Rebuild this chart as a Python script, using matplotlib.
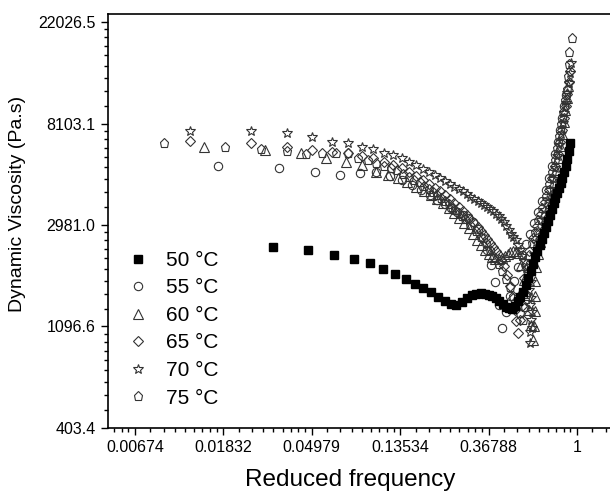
import numpy as np
import matplotlib
matplotlib.use('Agg')
import matplotlib.pyplot as plt
from matplotlib.ticker import FixedLocator, FixedFormatter, NullFormatter

# reduced frequency / dynamic viscosity (Pa.s)
freq_50 = [0.032, 0.048, 0.064, 0.080, 0.096, 0.112, 0.128, 0.144, 0.160, 0.176,
           0.192, 0.208, 0.224, 0.240, 0.256, 0.272, 0.288, 0.304, 0.320, 0.336,
           0.352, 0.368, 0.384, 0.400, 0.416, 0.432, 0.448, 0.464, 0.480, 0.496,
           0.512, 0.528, 0.544, 0.560, 0.576, 0.592, 0.608, 0.624, 0.640, 0.656,
           0.672, 0.688, 0.704, 0.720, 0.736, 0.752, 0.768, 0.784, 0.800, 0.816,
           0.832, 0.848, 0.864, 0.880, 0.896, 0.912, 0.928]
visc_50 = [2400, 2330, 2218, 2130, 2050, 1930, 1838, 1750, 1666, 1600,
           1540, 1466, 1410, 1368, 1354, 1395, 1452, 1495, 1510, 1525,
           1510, 1495, 1480, 1452, 1410, 1368, 1328, 1315, 1302, 1341,
           1410, 1466, 1540, 1650, 1768, 1894, 2030, 2175, 2307, 2447,
           2596, 2754, 2924, 3100, 3286, 3486, 3700, 3885, 4080, 4290,
           4505, 4735, 5020, 5330, 5710, 6180, 6690]

freq_55 = [0.0172, 0.0344, 0.0516, 0.0688, 0.086, 0.1032, 0.1204, 0.1376, 0.1548, 0.172,
           0.1892, 0.2064, 0.2236, 0.2408, 0.258, 0.2752, 0.2924, 0.3096, 0.3268, 0.344,
           0.3612, 0.3784, 0.3956, 0.4128, 0.43,
           0.448, 0.469, 0.490, 0.513, 0.537, 0.562, 0.588, 0.615, 0.643, 0.673,
           0.704, 0.728, 0.754, 0.780, 0.807, 0.825, 0.844, 0.863, 0.883]
visc_55 = [5330, 5230, 5020, 4880, 4970, 5020, 4830, 4640, 4420, 4205,
           4000, 3810, 3660, 3520, 3385, 3290, 3190, 3070, 2870, 2620,
           2330, 2010, 1700, 1354, 1080,
           1265, 1480, 1715, 1970, 2218, 2470, 2730, 3040, 3385, 3770,
           4205, 4730, 5330, 6000, 6750, 7600, 8550, 9630, 10730]

freq_60 = [0.0147, 0.0294, 0.0441, 0.0588, 0.0736, 0.0883, 0.103, 0.1177, 0.1324, 0.1471,
           0.1618, 0.1765, 0.1912, 0.2059, 0.2207, 0.2354, 0.2501, 0.2648, 0.2795, 0.2942,
           0.3089, 0.3236, 0.3383, 0.353, 0.3678, 0.3825, 0.3972, 0.4119, 0.4266, 0.4413,
           0.456, 0.4707, 0.4854, 0.5001, 0.5148,
           0.531, 0.549, 0.568, 0.581, 0.594, 0.608, 0.615, 0.622, 0.622, 0.622,
           0.629, 0.643, 0.658, 0.681, 0.704, 0.728, 0.754, 0.771, 0.789, 0.807,
           0.825, 0.844, 0.863, 0.873, 0.893, 0.903]
visc_60 = [6430, 6240, 6060, 5770, 5540, 5380, 5020, 4880, 4730, 4550,
           4330, 4160, 4000, 3850, 3700, 3520, 3350, 3190, 3040, 2890,
           2730, 2570, 2450, 2330, 2240, 2175, 2130, 2130, 2155, 2195,
           2240, 2285, 2305, 2305, 2260,
           2010, 1730, 1495, 1289, 1112, 959, 1100, 1275, 1480, 1715,
           1970, 2240, 2520, 2838, 3190, 3590, 4040, 4550, 5123, 5770,
           6490, 7310, 8220, 9255, 10420, 11730]

freq_65 = [0.0125, 0.025, 0.0375, 0.05, 0.0625, 0.075, 0.0875, 0.1, 0.1125, 0.125,
           0.1375, 0.15, 0.1625, 0.175, 0.1875, 0.2, 0.2125, 0.225, 0.2375, 0.25,
           0.2625, 0.275, 0.2875, 0.3, 0.3125, 0.325, 0.3375, 0.35, 0.3625, 0.375,
           0.3875, 0.4, 0.4125, 0.425, 0.4375,
           0.453, 0.469, 0.485, 0.496, 0.502, 0.513, 0.525, 0.537, 0.543, 0.549,
           0.562, 0.581, 0.608, 0.636, 0.665, 0.696, 0.728, 0.754, 0.780, 0.807,
           0.825, 0.844, 0.863, 0.883, 0.893, 0.914, 0.924]
visc_65 = [6820, 6690, 6430, 6240, 6120, 6060, 5880, 5770, 5540, 5380,
           5230, 5020, 4830, 4640, 4460, 4290, 4160, 4000, 3850, 3700,
           3560, 3420, 3290, 3160, 3040, 2920, 2810, 2700, 2600, 2500,
           2400, 2310, 2220, 2110, 1990,
           1820, 1635, 1450, 1289, 1155, 1030, 1168, 1340, 1540, 1770,
           2030, 2310, 2620, 2950, 3320, 3740, 4205, 4730, 5330, 6000,
           6750, 7600, 8550, 9630, 10840, 12200, 13590]

freq_70 = [0.0125, 0.025, 0.0375, 0.05, 0.0625, 0.075, 0.0875, 0.1, 0.1125, 0.125,
           0.1375, 0.15, 0.1625, 0.175, 0.1875, 0.2, 0.2125, 0.225, 0.2375, 0.25,
           0.2625, 0.275, 0.2875, 0.3, 0.3125, 0.325, 0.3375, 0.35, 0.3625, 0.375,
           0.3875, 0.4, 0.4125, 0.425, 0.4375, 0.45, 0.4625, 0.475, 0.4875, 0.5,
           0.5125, 0.525, 0.5375, 0.55, 0.5625, 0.575,
           0.581, 0.5875, 0.594, 0.5875, 0.5875, 0.601, 0.601, 0.594, 0.594, 0.601,
           0.615, 0.629, 0.643, 0.665, 0.688, 0.712, 0.737, 0.762, 0.780, 0.798,
           0.816, 0.834, 0.854, 0.863, 0.883, 0.893, 0.914, 0.924, 0.934]
visc_70 = [7530, 7530, 7380, 7090, 6750, 6690, 6430, 6300, 6060, 5940,
           5770, 5540, 5380, 5170, 5020, 4880, 4730, 4600, 4460, 4330,
           4250, 4160, 4040, 3920, 3850, 3770, 3700, 3630, 3560, 3490,
           3420, 3320, 3250, 3160, 3070, 2950, 2840, 2730, 2650, 2570,
           2450, 2330, 2200, 2090, 1950, 1785,
           1570, 1354, 1168, 1040, 930, 1080, 1265, 1450, 1700, 1950,
           2240, 2520, 2810, 3128, 3452, 3810, 4205, 4690, 5220, 5880,
           6555, 7310, 8140, 8990, 9920, 10940, 12080, 13330, 14700]

freq_75 = [0.00936, 0.01872, 0.02808, 0.03744, 0.0468, 0.05616, 0.06552, 0.07488, 0.08424, 0.0936,
           0.103, 0.1123, 0.1217, 0.131, 0.1404, 0.1498, 0.1591, 0.1685, 0.1778, 0.1872,
           0.1966, 0.2059, 0.2153, 0.2246, 0.234, 0.2434, 0.2527, 0.2621, 0.2714, 0.2808,
           0.2995, 0.3182, 0.337, 0.3557, 0.3744, 0.3931, 0.4118, 0.4306, 0.4493, 0.468,
           0.4867, 0.5054, 0.5242, 0.5429,
           0.555, 0.562, 0.562, 0.568, 0.581, 0.601, 0.622, 0.643, 0.673, 0.704,
           0.728, 0.754, 0.780, 0.798, 0.816, 0.834, 0.854, 0.873, 0.893, 0.903,
           0.914, 0.914, 0.945]
visc_75 = [6690, 6430, 6300, 6180, 6000, 6060, 6060, 6060, 5770, 5650,
           5490, 5330, 5230, 5120, 4925, 4780, 4640, 4550, 4375, 4250,
           4120, 4000, 3890, 3770, 3660, 3560, 3450, 3350, 3250, 3160,
           2980, 2810, 2650, 2500, 2330, 2175, 2030, 1895, 1750, 1620,
           1480, 1354, 1250, 1168,
           1330, 1510, 1715, 1950, 2218, 2500, 2780, 3128, 3520, 3960,
           4460, 5020, 5650, 6365, 7165, 8065, 9075, 10210, 11380, 12940,
           14560, 16380, 18815]

labels = ['50 °C', '55 °C', '60 °C', '65 °C', '70 °C', '75 °C']
x_tick_labels = ['0.00674', '0.01832', '0.04979', '0.13534', '0.36788', '1']
y_tick_labels = ['403.4', '1096.6', '2981.0', '8103.1', '22026.5']


def minor_ticks(k_lo, k_hi):
    # 8 minor ticks evenly spaced in value between powers of e (Origin style)
    out = []
    for k in range(k_lo, k_hi):
        lo, hi = np.exp(k), np.exp(k + 1)
        out += [lo + (hi - lo) * i / 9 for i in range(1, 9)]
    return out


def main():
    plt.rcParams['font.family'] = ['Liberation Sans', 'DejaVu Sans']
    fig = plt.figure(figsize=(6.10, 4.98), dpi=100)
    ax = fig.add_axes([0.1770, 0.1406, 0.8340, 0.8313])

    edge = '#333333'
    hollow = dict(linestyle='none', mfc='none', mec=edge, mew=0.8)
    h75, = ax.plot(freq_75, visc_75, marker='p', ms=6.5, **hollow)
    h70, = ax.plot(freq_70, visc_70, marker='*', ms=7.5, **hollow)
    h65, = ax.plot(freq_65, visc_65, marker='D', ms=5.2, **hollow)
    h60, = ax.plot(freq_60, visc_60, marker='^', ms=6.5, **hollow)
    h55, = ax.plot(freq_55, visc_55, marker='o', ms=6.0, **hollow)
    h50, = ax.plot(freq_50, visc_50, linestyle='none', marker='s', ms=5.8,
                   mfc='black', mec='black', zorder=3)

    ax.set_xscale('log', base=np.e)
    ax.set_yscale('log', base=np.e)
    ax.set_xlim(np.exp(-5.305), np.exp(0.45))
    ax.set_ylim(np.exp(6), np.exp(10.079))

    ax.xaxis.set_major_locator(FixedLocator(np.exp(np.arange(-5, 1))))
    ax.xaxis.set_major_formatter(FixedFormatter(x_tick_labels))
    ax.xaxis.set_minor_locator(FixedLocator(minor_ticks(-6, 1)))
    ax.xaxis.set_minor_formatter(NullFormatter())
    ax.yaxis.set_major_locator(FixedLocator(np.exp(np.arange(6, 11))))
    ax.yaxis.set_major_formatter(FixedFormatter(y_tick_labels))
    ax.yaxis.set_minor_locator(FixedLocator(minor_ticks(6, 10)))
    ax.yaxis.set_minor_formatter(NullFormatter())

    ax.tick_params(which='both', direction='out', top=False, right=False, width=1.0)
    ax.tick_params(which='major', length=5, labelsize=11.5, pad=4)
    ax.tick_params(which='minor', length=2.8)
    for s in ax.spines.values():
        s.set_linewidth(1.2)

    ax.set_xlabel('Reduced frequency', fontsize=17.5)
    ax.xaxis.set_label_coords(0.477, -0.10)
    ax.set_ylabel('Dynamic Viscosity (Pa.s)', fontsize=14)
    ax.yaxis.set_label_coords(-0.162, 0.54)

    ax.legend([h50, h55, h60, h65, h70, h75], labels, loc='upper left',
              bbox_to_anchor=(0.0385, 0.428), frameon=False, fontsize=15,
              handlelength=1.0, handletextpad=0.85, labelspacing=0.41,
              borderpad=0, borderaxespad=0)

    fig.savefig('out.png', dpi=100)


if __name__ == "__main__":
    main()
